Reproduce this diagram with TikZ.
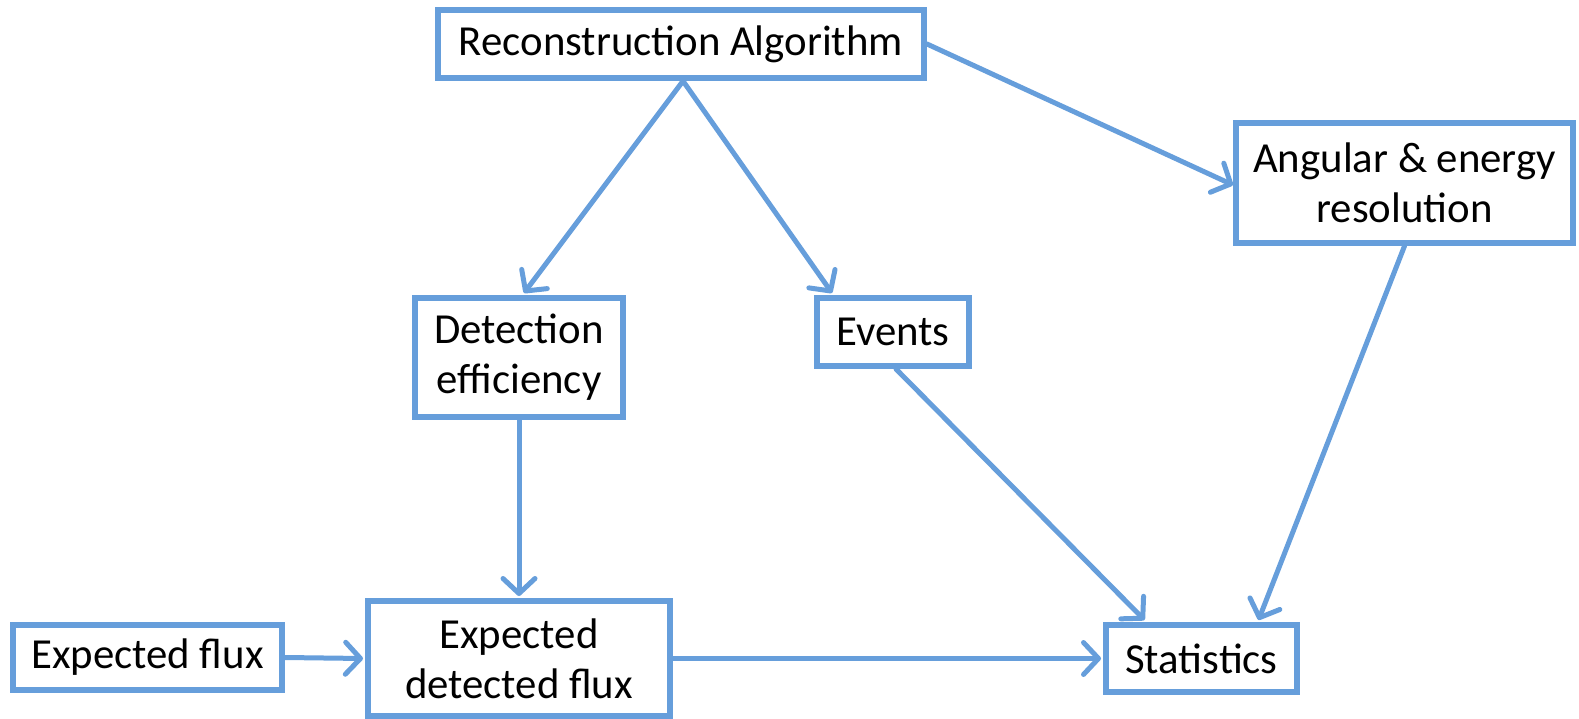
\documentclass[tikz,border=0pt]{standalone}
\usepackage{fontspec}
\setmainfont{Carlito}
\usetikzlibrary{arrows.meta}
\definecolor{lineblue}{RGB}{102,158,219}
\begin{document}
\begin{tikzpicture}[x=1pt,y=-1pt,
  box/.style={draw=lineblue,line width=6pt,fill=white,rectangle,inner sep=0pt,
    align=center,font=\fontsize{42.8}{50}\selectfont},
  conn/.style={draw=lineblue,line width=5pt,line cap=round,
    -{Straight Barb[length=15pt,width=32pt,line width=5pt,round]}}]
\useasboundingbox (0,0) rectangle (1579,719);
\node[box,minimum width=486pt,minimum height=68pt] (rec) at (681,44) {Reconstruction Algorithm};
\node[box,minimum width=337pt,minimum height=120pt] (ang) at (1404.5,183) {Angular \& energy\\resolution};
\node[box,minimum width=208pt,minimum height=119pt] (det) at (519,357.5) {Detection\\efficiency};
\node[box,minimum width=152pt,minimum height=68pt] (evt) at (893,332) {Events};
\node[box,minimum width=269pt,minimum height=65pt] (ef) at (147.5,657.5) {Expected flux};
\node[box,minimum width=302pt,minimum height=115pt] (edf) at (519,658.5) {Expected\\detected flux};
\node[box,minimum width=191pt,minimum height=67pt] (stat) at (1201.5,658.5) {Statistics};
\draw[conn] ([xshift=2pt]rec.south) -- ([xshift=5pt,yshift=2pt]det.north);
\draw[conn] ([xshift=2pt]rec.south) -- ([xshift=18pt,yshift=2pt]evt.north west);
\draw[conn] (rec.east) -- ([yshift=-2pt]ang.west);
\draw[conn] (ang.south) -- ([xshift=57pt,yshift=2pt]stat.north);
\draw[conn] ([xshift=3pt]evt.south) -- ([xshift=-57pt,yshift=2pt]stat.north);
\draw[conn] (det.south) -- ([yshift=2pt]edf.north);
\draw[conn] (ef.east) -- ([xshift=-2pt]edf.west);
\draw[conn] (edf.east) -- ([xshift=-2pt]stat.west);
\end{tikzpicture}
\end{document}
